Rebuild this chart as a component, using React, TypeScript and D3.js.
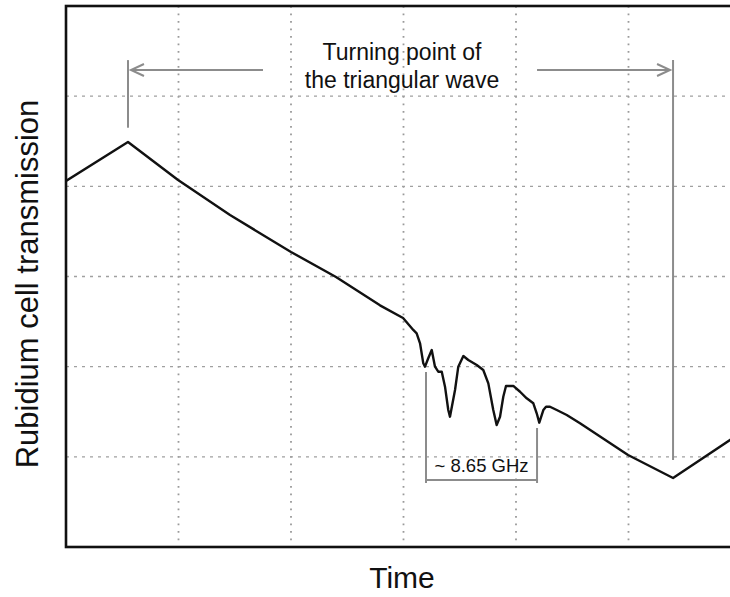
import { useEffect, useRef } from "react"
import * as d3 from "d3"

// trace, in divisions (time, transmission)
const timeDiv = [
  0, 0.551, 0.996, 1.458, 2.0, 2.4, 2.791, 2.996, 3.087, 3.117, 3.147, 3.176, 3.191, 3.22, 3.251, 3.28,
  3.309, 3.34, 3.369, 3.398, 3.413, 3.458, 3.487, 3.532, 3.576, 3.651, 3.709, 3.754, 3.798, 3.828, 3.858,
  3.887, 3.911, 3.976, 4.036, 4.095, 4.154, 4.184, 4.207, 4.243, 4.267, 4.302, 4.362, 4.451, 4.569, 4.996,
  5.396, 5.902, 6.0,
]
const transmissionDiv = [
  4.059, 4.492, 4.07, 3.682, 3.272, 2.994, 2.68, 2.54, 2.407, 2.37, 2.259, 2.037, 2.0, 2.093, 2.185, 2.0,
  1.944, 1.944, 1.778, 1.519, 1.445, 1.741, 2.0, 2.118, 2.074, 2.018, 1.963, 1.815, 1.519, 1.353, 1.445,
  1.667, 1.786, 1.786, 1.722, 1.649, 1.594, 1.483, 1.379, 1.519, 1.556, 1.556, 1.519, 1.464, 1.372, 1.02,
  0.765, 1.187, 1.264,
]

// grid divisions
const xDivisions = [1, 2, 3, 4, 5, 6]
const yDivisions = [1, 2, 3, 4, 5]

const titleLines = ["Turning point of", "the triangular wave"]
const spacingLabel = "~ 8.65 GHz"
const xLabel = "Time"
const yLabel = "Rubidium cell transmission"

// turning points of the ramp (time, div)
const turningTimes = [0.551, 5.396]
// absorption dips bracket
const dipStart = 3.2
const dipEnd = 4.187

export default function App() {
  const svgRef = useRef<SVGSVGElement>(null)

  useEffect(() => {
    if (!svgRef.current) return
    d3.select(svgRef.current).selectAll("*").remove()

    const margin = { top: 6, left: 66 }
    const width = 675
    const height = 541
    const font = "'Liberation Sans', Arial, Helvetica, sans-serif"
    const grey = "#8c8c8c"

    const svg = d3.select(svgRef.current).attr("width", 730).attr("height", 597)
    svg.append("rect").attr("width", 730).attr("height", 597).attr("fill", "#fff")

    const x = d3.scaleLinear().domain([0, 6]).range([margin.left, margin.left + width])
    const y = d3.scaleLinear().domain([0, 6]).range([margin.top + height, margin.top])

    // grid
    svg
      .append("g")
      .selectAll("line")
      .data(xDivisions)
      .enter()
      .append("line")
      .attr("x1", (d) => x(d))
      .attr("x2", (d) => x(d))
      .attr("y1", y(6))
      .attr("y2", y(0))
      .attr("stroke", "#9a9a9a")
      .attr("stroke-width", 1.8)
      .attr("stroke-dasharray", "1.8,5.7")

    svg
      .append("g")
      .selectAll("line")
      .data(yDivisions)
      .enter()
      .append("line")
      .attr("x1", x(0))
      .attr("x2", x(6))
      .attr("y1", (d) => y(d))
      .attr("y2", (d) => y(d))
      .attr("stroke", "#a0a0a0")
      .attr("stroke-width", 1.4)
      .attr("stroke-dasharray", "3,5")

    // trace
    svg
      .append("clipPath")
      .attr("id", "plot-clip")
      .append("rect")
      .attr("x", x(0))
      .attr("y", y(6))
      .attr("width", width)
      .attr("height", height)

    const line = d3
      .line<number>()
      .x((d) => x(d))
      .y((_, i) => y(transmissionDiv[i]))

    svg
      .append("path")
      .attr("clip-path", "url(#plot-clip)")
      .attr("d", line(timeDiv))
      .attr("fill", "none")
      .attr("stroke", "#111")
      .attr("stroke-width", 2.4)
      .attr("stroke-linejoin", "round")

    // frame
    svg
      .append("rect")
      .attr("x", x(0))
      .attr("y", y(6))
      .attr("width", width)
      .attr("height", height)
      .attr("fill", "none")
      .attr("stroke", "#111")
      .attr("stroke-width", 2.6)

    // turning point markers
    const ann = svg.append("g").attr("stroke", grey).attr("stroke-width", 2).attr("fill", "none")
    const arrowY = y(5.29)
    ann
      .append("line")
      .attr("x1", x(turningTimes[0]))
      .attr("x2", x(turningTimes[0]))
      .attr("y1", y(5.4))
      .attr("y2", y(4.65))
    ann
      .append("line")
      .attr("x1", x(turningTimes[1]))
      .attr("x2", x(turningTimes[1]))
      .attr("y1", y(5.4))
      .attr("y2", y(0.965))

    const leftTip = x(turningTimes[0]) + 3
    const rightTip = x(turningTimes[1]) - 3
    ann.append("line").attr("x1", x(1.751)).attr("x2", leftTip).attr("y1", arrowY).attr("y2", arrowY)
    ann.append("line").attr("x1", x(4.187)).attr("x2", rightTip).attr("y1", arrowY).attr("y2", arrowY)
    ann
      .append("path")
      .attr("d", `M${leftTip + 13},${arrowY - 6}L${leftTip},${arrowY}L${leftTip + 13},${arrowY + 6}`)
    ann
      .append("path")
      .attr("d", `M${rightTip - 13},${arrowY - 6}L${rightTip},${arrowY}L${rightTip - 13},${arrowY + 6}`)

    // dip spacing bracket
    const bracketY = y(0.743)
    ann.append("line").attr("x1", x(dipStart)).attr("x2", x(dipStart)).attr("y1", y(1.941)).attr("y2", y(0.71))
    ann.append("line").attr("x1", x(dipEnd)).attr("x2", x(dipEnd)).attr("y1", y(1.32)).attr("y2", y(0.71))
    ann.append("line").attr("x1", x(dipStart)).attr("x2", x(dipEnd)).attr("y1", bracketY).attr("y2", bracketY)

    // texts
    svg
      .append("g")
      .selectAll("text")
      .data(titleLines)
      .enter()
      .append("text")
      .attr("x", x(2.987))
      .attr("y", (_, i) => 60 + i * 28)
      .attr("text-anchor", "middle")
      .attr("font-family", font)
      .attr("font-size", 23)
      .attr("fill", "#111")
      .text((d) => d)

    svg
      .append("text")
      .attr("x", x((dipStart + dipEnd) / 2))
      .attr("y", bracketY - 8)
      .attr("text-anchor", "middle")
      .attr("font-family", font)
      .attr("font-size", 18.5)
      .attr("fill", "#111")
      .text(spacingLabel)

    svg
      .append("text")
      .attr("x", 402)
      .attr("y", 588)
      .attr("text-anchor", "middle")
      .attr("font-family", font)
      .attr("font-size", 30)
      .attr("fill", "#111")
      .text(xLabel)

    svg
      .append("text")
      .attr("transform", `translate(38,${284}) rotate(-90)`)
      .attr("text-anchor", "middle")
      .attr("font-family", font)
      .attr("font-size", 31)
      .attr("fill", "#111")
      .text(yLabel)
  }, [])

  return (
    <div style={{ position: "absolute", left: 0, top: 0, width: 730, height: 597 }}>
      <svg ref={svgRef} style={{ display: "block" }}></svg>
    </div>
  )
}
